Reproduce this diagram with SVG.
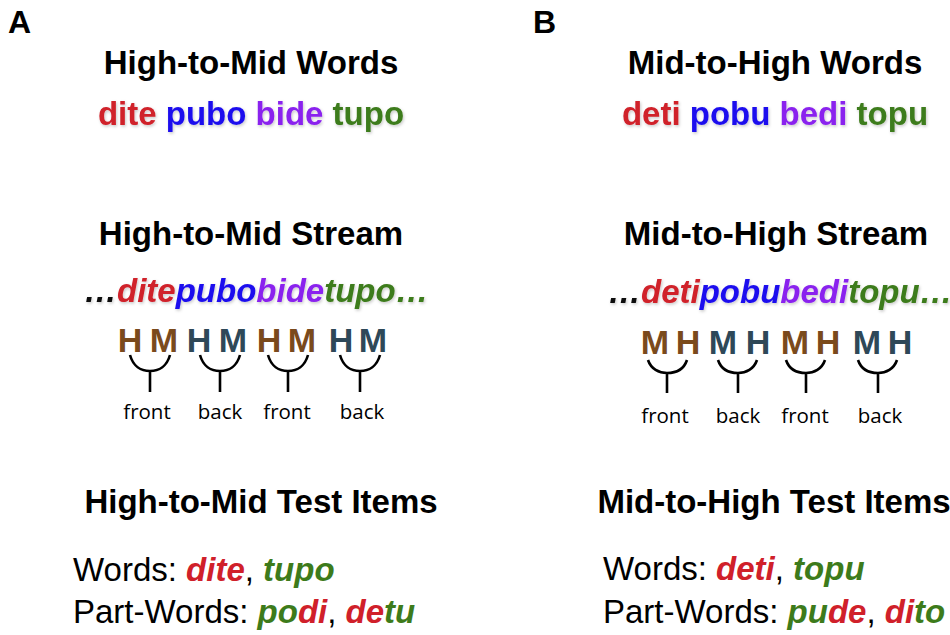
<svg xmlns="http://www.w3.org/2000/svg" width="950" height="635" viewBox="0 0 950 635">
  <defs>
    <filter id="soft" x="-10%" y="-30%" width="120%" height="160%">
      <feDropShadow dx="1" dy="1.5" stdDeviation="1.5" flood-color="#000" flood-opacity="0.22"/>
    </filter>
    <style>
      text { font-family: "Liberation Sans", Arial, sans-serif; }
      .panel { font-size: 32px; font-weight: bold; fill: #000; }
      .title { font-size: 33px; font-weight: bold; fill: #000; text-anchor: middle; }
      .words { font-size: 33px; font-weight: bold; text-anchor: middle; filter: url(#soft); }
      .stream { font-size: 33px; font-weight: bold; font-style: italic; filter: url(#soft); }
      .tone { font-size: 34px; font-weight: bold; text-anchor: middle; }
      .item { font-size: 33px; fill: #000; }
      .bi { font-weight: bold; font-style: italic; }
      .lab { font-family: "Open Sans", "Noto Sans", sans-serif; font-size: 20.5px; fill: #000; text-anchor: middle; }
      .red { fill: #D0202A; }
      .blue { fill: #1E10EE; }
      .purple { fill: #8A22EE; }
      .green { fill: #3D7B1B; }
      .dark { fill: #111; }
      .brown { fill: #7A4A1C; }
      .slate { fill: #2E4858; }
      .cup { fill: none; stroke: #000; stroke-width: 2.6; stroke-linecap: butt; }
    </style>
  </defs>

  <!-- Panel A: High-to-Mid -->
  <g id="panelA">
    <text class="panel" x="8" y="33">A</text>
    <g id="a-words">
      <text class="title" x="251" y="74">High-to-Mid Words</text>
      <text class="words" x="251" y="125"><tspan class="red">dite</tspan> <tspan class="blue">pubo</tspan> <tspan class="purple">bide</tspan> <tspan class="green">tupo</tspan></text>
    </g>
    <g id="a-stream">
      <text class="title" x="251" y="245">High-to-Mid Stream</text>
      <text class="stream" x="84" y="302"><tspan class="dark">…</tspan><tspan class="red">dite</tspan><tspan class="blue">pubo</tspan><tspan class="purple">bide</tspan><tspan class="green">tupo…</tspan></text>
    </g>
    <g id="a-tones">
      <text class="tone brown" x="130" y="352">H</text>
      <text class="tone brown" x="164" y="352">M</text>
      <text class="tone slate" x="199" y="352">H</text>
      <text class="tone slate" x="233" y="352">M</text>
      <text class="tone brown" x="269" y="352">H</text>
      <text class="tone brown" x="302" y="352">M</text>
      <text class="tone slate" x="341" y="352">H</text>
      <text class="tone slate" x="373" y="352">M</text>
    </g>
    <g id="a-cues">
      <text class="lab" x="147" y="419">front</text>
      <text class="lab" x="220" y="419">back</text>
      <text class="lab" x="287" y="419">front</text>
      <text class="lab" x="362" y="419">back</text>
    </g>
    <g id="a-test">
      <text class="title" x="261" y="513">High-to-Mid Test Items</text>
      <text class="item" x="73" y="581">Words: <tspan class="bi red">dite</tspan>, <tspan class="bi green">tupo</tspan></text>
      <text class="item" x="73" y="623">Part-Words: <tspan class="bi green">po</tspan><tspan class="bi red">di</tspan>, <tspan class="bi red">de</tspan><tspan class="bi green">tu</tspan></text>
    </g>
  </g>

  <!-- Panel B: Mid-to-High -->
  <g id="panelB">
    <text class="panel" x="533" y="33">B</text>
    <g id="b-words">
      <text class="title" x="775" y="74">Mid-to-High Words</text>
      <text class="words" x="775" y="125"><tspan class="red">deti</tspan> <tspan class="blue">pobu</tspan> <tspan class="purple">bedi</tspan> <tspan class="green">topu</tspan></text>
    </g>
    <g id="b-stream">
      <text class="title" x="776" y="245">Mid-to-High Stream</text>
      <text class="stream" x="608" y="303"><tspan class="dark">…</tspan><tspan class="red">deti</tspan><tspan class="blue">pobu</tspan><tspan class="purple">bedi</tspan><tspan class="green">topu…</tspan></text>
    </g>
    <g id="b-tones">
      <text class="tone brown" x="655" y="354">M</text>
      <text class="tone brown" x="688" y="354">H</text>
      <text class="tone slate" x="723" y="354">M</text>
      <text class="tone slate" x="758" y="354">H</text>
      <text class="tone brown" x="795" y="354">M</text>
      <text class="tone brown" x="828" y="354">H</text>
      <text class="tone slate" x="867" y="354">M</text>
      <text class="tone slate" x="900" y="354">H</text>
    </g>
    <g id="b-cues">
      <text class="lab" x="665" y="423">front</text>
      <text class="lab" x="738" y="423">back</text>
      <text class="lab" x="805" y="423">front</text>
      <text class="lab" x="880" y="423">back</text>
    </g>
    <g id="b-test">
      <text class="title" x="774" y="513">Mid-to-High Test Items</text>
      <text class="item" x="603" y="580">Words: <tspan class="bi red">deti</tspan>, <tspan class="bi green">topu</tspan></text>
      <text class="item" x="603" y="623">Part-Words: <tspan class="bi green">pu</tspan><tspan class="bi red">de</tspan>, <tspan class="bi red">di</tspan><tspan class="bi green">to</tspan></text>
    </g>
  </g>

  <!-- Syllable-pair brackets joining each tone pair to its cue -->
  <g id="connectors">
    <path class="cup" d="M130,355 C133,366 141,371 150,371 C159,371 167,366 170,355 M150,371 V392"/>
    <path class="cup" d="M200,355 C203,366 211,371 220,371 C229,371 237,366 240,355 M220,371 V392"/>
    <path class="cup" d="M268,355 C271,366 279,371 288,371 C297,371 305,366 308,355 M288,371 V392"/>
    <path class="cup" d="M340,355 C343,366 351,371 360,371 C369,371 377,366 380,355 M360,371 V392"/>

    <path class="cup" d="M648,360 C651,369 659,373 667,373 C676,373 684,369 687,360 M667,373 V393"/>
    <path class="cup" d="M718,360 C721,369 729,373 738,373 C746,373 754,369 757,360 M738,373 V393"/>
    <path class="cup" d="M786,360 C789,369 797,373 806,373 C814,373 822,369 825,360 M806,373 V393"/>
    <path class="cup" d="M858,360 C861,369 869,373 878,373 C886,373 894,369 897,360 M878,373 V393"/>
  </g>
</svg>
